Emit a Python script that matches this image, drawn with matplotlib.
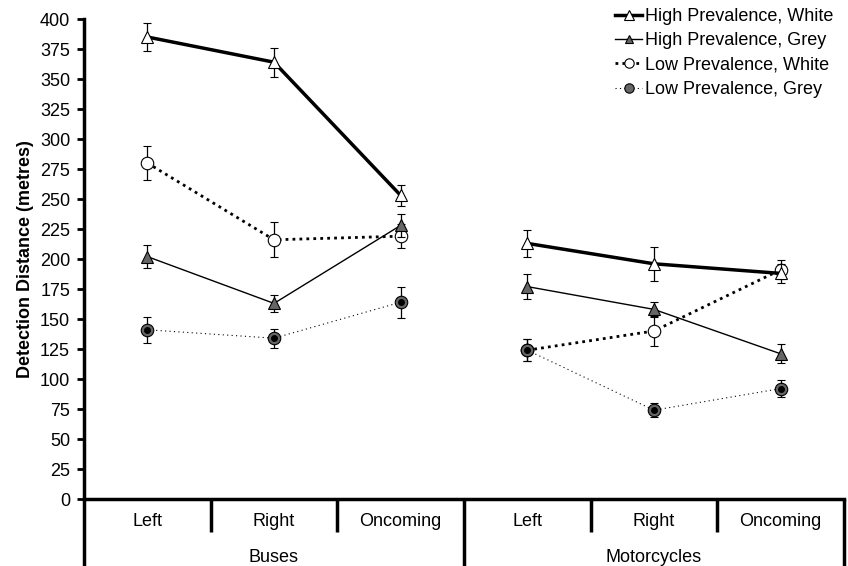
import matplotlib
matplotlib.use("Agg")
import matplotlib.pyplot as plt
from matplotlib.lines import Line2D
import numpy as np

plt.rcParams['font.family'] = ['Liberation Sans', 'DejaVu Sans']

directions = ["Left", "Right", "Oncoming"]
vehicles = ["Buses", "Motorcycles"]

hp_white = [385, 364, 253, 213, 196, 188]
hp_white_err = [12, 12, 9, 11, 14, 8]
hp_grey = [202, 163, 228, 177, 158, 121]
hp_grey_err = [9.5, 7, 9.5, 10.5, 6, 8]
lp_white = [280, 216, 219, 124, 140, 191]
lp_white_err = [14, 14.5, 10, 9, 12.5, 8]
lp_grey = [141, 134, 164, 124, 74, 92]
lp_grey_err = [11, 8, 13, 9, 6, 7]

yticks = list(range(0, 401, 25))
FS = 13

fig = plt.figure(figsize=(8.48, 5.66), dpi=100)
ax = fig.add_axes([84/848, 67/566, (844-84)/848, 480/566])

x = np.arange(6)
err_kw = dict(ecolor='black', elinewidth=0.9, capsize=3, capthick=0.9)
GREY = '#666666'

styles = {
    "High Prevalence, White": dict(ls='-', lw=2.5, marker='^', mfc='white', ms=9),
    "High Prevalence, Grey": dict(ls='-', lw=1.0, marker='^', mfc=GREY, ms=8),
    "Low Prevalence, White": dict(ls=(0, (1, 1.5)), lw=2.0, marker='o', mfc='white', ms=9),
    "Low Prevalence, Grey": dict(ls=(0, (1, 3)), lw=0.8, marker='o', mfc=GREY, ms=9),
}

def draw(vals, errs, st, z):
    for g in range(2):
        sl = slice(3*g, 3*g+3)
        ax.errorbar(x[sl], vals[sl], yerr=errs[sl], color='black', linestyle=st['ls'],
                    linewidth=st['lw'], marker=st['marker'], markerfacecolor=st['mfc'],
                    markeredgecolor='black', markeredgewidth=0.8, markersize=st['ms'],
                    zorder=z, **err_kw)

draw(lp_white, lp_white_err, styles["Low Prevalence, White"], 3)
draw(lp_grey, lp_grey_err, styles["Low Prevalence, Grey"], 4)
for g in range(2):
    sl = slice(3*g, 3*g+3)
    ax.plot(x[sl], lp_grey[sl], linestyle='none', marker='o', markersize=4,
            color='black', zorder=5)
draw(hp_white, hp_white_err, styles["High Prevalence, White"], 6)
draw(hp_grey, hp_grey_err, styles["High Prevalence, Grey"], 6)

ax.set_xlim(-0.5, 5.5)
ax.set_ylim(0, 400)
ax.set_yticks(yticks)
ax.set_yticklabels([str(v) for v in yticks], fontsize=FS)
ax.set_xticks([])
for s in ['top', 'right']:
    ax.spines[s].set_visible(False)
ax.spines['left'].set_linewidth(2.5)
ax.spines['bottom'].set_linewidth(2.5)
ax.tick_params(axis='y', direction='out', length=5, width=2, pad=5)
ax.set_ylabel("Detection Distance (metres)", fontsize=FS, fontweight='bold', labelpad=4)

trans = ax.get_xaxis_transform()
px = 1/480
for b in [0.5, 1.5, 3.5, 4.5]:
    ax.plot([b, b], [0, -33*px], transform=trans, color='black', lw=2.5, clip_on=False, solid_capstyle='butt')
for b in [-0.5, 2.5, 5.5]:
    ax.plot([b, b], [0, -70*px], transform=trans, color='black', lw=2.5, clip_on=False, solid_capstyle='butt')
for i in range(6):
    ax.text(i, -23*px, directions[i % 3], transform=trans, ha='center', va='center', fontsize=FS)
for g in range(2):
    ax.text(3*g + 1, -58*px, vehicles[g], transform=trans, ha='center', va='center', fontsize=FS)

order = ["High Prevalence, White", "High Prevalence, Grey", "Low Prevalence, White", "Low Prevalence, Grey"]
handles = []
for o in order:
    st = styles[o]
    handles.append(Line2D([], [], color='black', linestyle=st['ls'], linewidth=st['lw'],
                          marker=st['marker'], markerfacecolor=st['mfc'], markeredgecolor='black',
                          markeredgewidth=0.8, markersize=st['ms']*0.75))
leg = ax.legend(handles, order, loc='upper right', bbox_to_anchor=(1.0, 1.045),
                frameon=False, fontsize=FS, handlelength=1.5, handletextpad=0.15,
                labelspacing=0.4, borderaxespad=0.2)

fig.savefig("out.png", dpi=100)
